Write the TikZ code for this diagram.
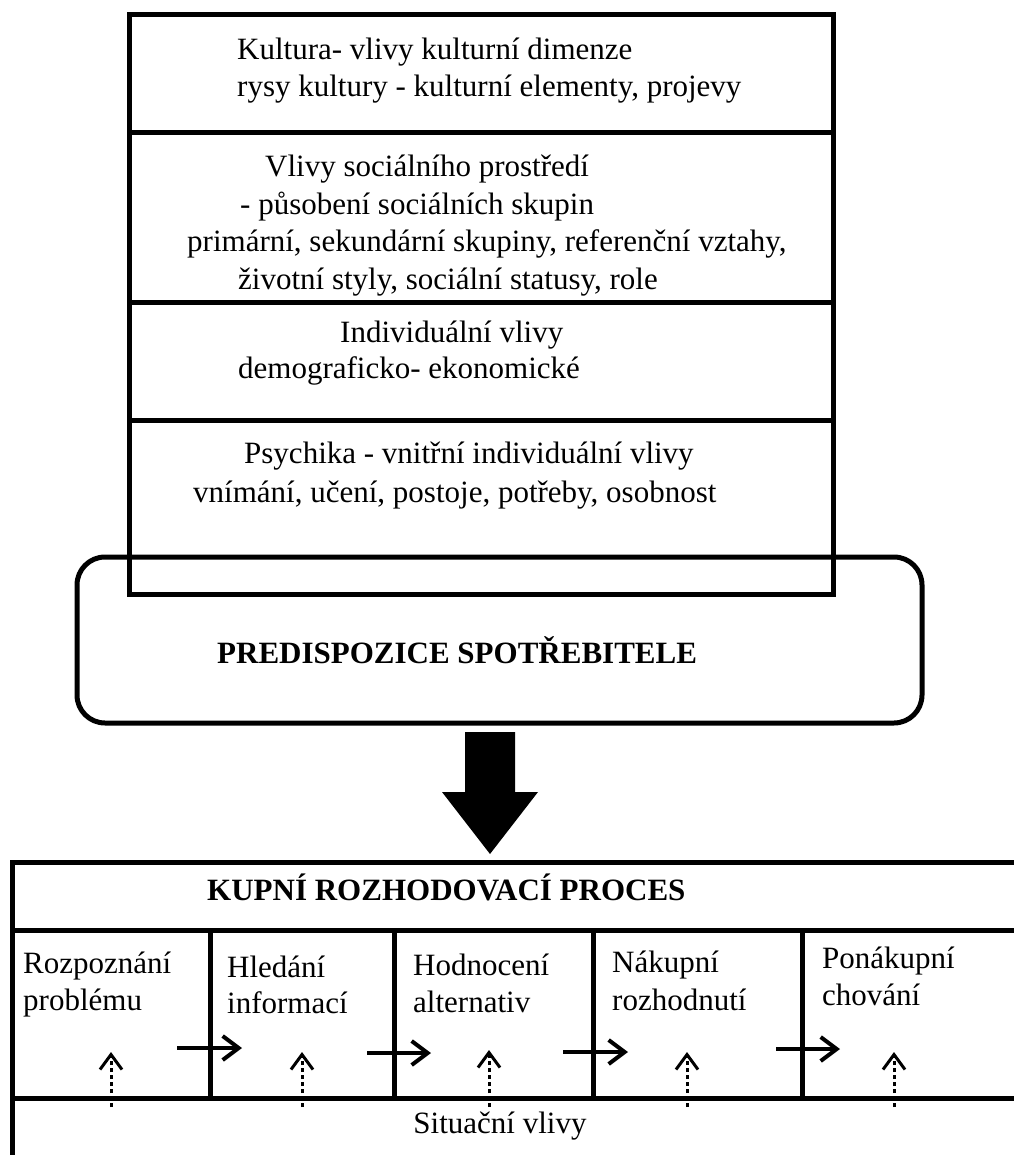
\documentclass[tikz,border=0pt]{standalone}
\usepackage{fontspec}
\setmainfont{Liberation Serif}
\usetikzlibrary{arrows.meta}

\begin{document}
\begin{tikzpicture}[x=1pt,y=-1pt]
	\tikzset{frame/.style = {draw,line width=5pt,outer sep=0pt,inner sep=0pt,anchor=north west}}
	\tikzset{txt/.style = {anchor=base west,inner sep=0pt,font=\fontsize{31}{37}\selectfont}}
	\tikzset{title/.style = {txt,font=\fontsize{31}{37}\selectfont\bfseries}}
	\tikzset{flow/.style = {-{Straight Barb[length=16pt,width=24pt]},line width=4pt}}
	\tikzset{influence/.style = {-{Straight Barb[length=15pt,width=22pt]},line width=3pt,dash pattern=on 4pt off 3pt}}
	\useasboundingbox (0,0) rectangle (1013,1155);
	% vlivy
	\node[frame,minimum width=704,minimum height=118] (kultura) at (129,15) {};
	\node[frame,minimum width=704,minimum height=169] (socialni) at (129,133) {};
	\node[frame,minimum width=704,minimum height=118] (individualni) at (129,302) {};
	\node[frame,minimum width=704,minimum height=174] (psychika) at (129,420) {};
	\node[txt] (k1) at (237,60) {Kultura- vlivy kulturní dimenze};
	\node[txt] (k2) at (237,97) {rysy kultury - kulturní elementy, projevy};
	\node[txt] (s1) at (265,177) {Vlivy sociálního prostředí};
	\node[txt] (s2) at (240,215) {- působení sociálních skupin};
	\node[txt] (s3) at (187,252) {primární, sekundární skupiny, referenční vztahy,};
	\node[txt] (s4) at (238,290) {životní styly, sociální statusy, role};
	\node[txt] (i1) at (340,342) {Individuální vlivy};
	\node[txt] (i2) at (238,378) {demograficko- ekonomické};
	\node[txt] (p1) at (244,463) {Psychika - vnitřní individuální vlivy};
	\node[txt] (p2) at (193,502) {vnímání, učení, postoje, potřeby, osobnost};
	% predispozice
	\node[frame,rounded corners=28pt,minimum width=845,minimum height=166] (predispozice) at (77,557) {};
	\node[title] (predtext) at (217,663) {PREDISPOZICE SPOTŘEBITELE};
	\coordinate (tip) at (490,854);
	\fill (465,732) -- (515,732) -- (515,792) -- (538,792) -- (tip) -- (442,792) -- (465,792) -- cycle;
	% proces
	\node[frame,minimum width=1060,minimum height=68] (proces) at (12,862) {};
	\node[frame,minimum width=198,minimum height=168] (krok1) at (12,930) {};
	\node[frame,minimum width=184,minimum height=168] (krok2) at (210,930) {};
	\node[frame,minimum width=199,minimum height=168] (krok3) at (394,930) {};
	\node[frame,minimum width=209,minimum height=168] (krok4) at (593,930) {};
	\node[frame,minimum width=270,minimum height=168] (krok5) at (802,930) {};
	\node[frame,minimum width=1060,minimum height=120] (situace) at (12,1098) {};
	\node[title] (protext) at (207,900) {KUPNÍ ROZHODOVACÍ PROCES};
	\node[txt] (r1) at (23,973) {Rozpoznání};
	\node[txt] (r2) at (23,1010) {problému};
	\node[txt] (h1) at (227,977) {Hledání};
	\node[txt] (h2) at (227,1013) {informací};
	\node[txt] (a1) at (413,975) {Hodnocení};
	\node[txt] (a2) at (413,1012) {alternativ};
	\node[txt] (n1) at (612,972) {Nákupní};
	\node[txt] (n2) at (612,1010) {rozhodnutí};
	\node[txt] (c1) at (822,968) {Ponákupní};
	\node[txt] (c2) at (822,1005) {chování};
	\node[txt,anchor=base] (sittext) at (500,1133) {Situační vlivy};
	% sipky mezi kroky
	\coordinate (f1) at (177,1048); \coordinate (g1) at (242,1048);
	\coordinate (f2) at (367,1053); \coordinate (g2) at (431,1053);
	\coordinate (f3) at (563,1052); \coordinate (g3) at (628,1052);
	\coordinate (f4) at (776,1049); \coordinate (g4) at (840,1049);
	\draw[flow] (f1) -- (g1);
	\draw[flow] (f2) -- (g2);
	\draw[flow] (f3) -- (g3);
	\draw[flow] (f4) -- (g4);
	% situacni vlivy
	\coordinate (d1) at (111,1107); \coordinate (e1) at (111,1052);
	\coordinate (d2) at (302,1107); \coordinate (e2) at (302,1052);
	\coordinate (d3) at (489,1107); \coordinate (e3) at (489,1050);
	\coordinate (d4) at (687,1107); \coordinate (e4) at (687,1052);
	\coordinate (d5) at (894,1107); \coordinate (e5) at (894,1052);
	\draw[influence] (d1) -- (e1);
	\draw[influence] (d2) -- (e2);
	\draw[influence] (d3) -- (e3);
	\draw[influence] (d4) -- (e4);
	\draw[influence] (d5) -- (e5);
\end{tikzpicture}
\end{document}
